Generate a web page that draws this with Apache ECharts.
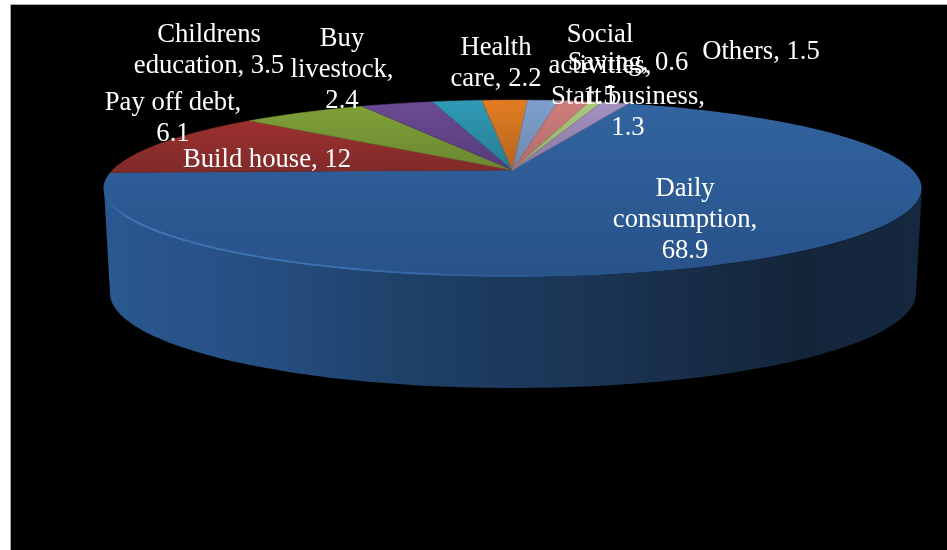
<!DOCTYPE html>
<html>
<head>
<meta charset="utf-8">
<title>Use of income</title>
<style>html,body{margin:0;padding:0;background:#fff}#chart{width:947px;height:550px}</style>
<script src="https://cdn.jsdelivr.net/npm/echarts@6/dist/echarts.min.js"></script>
</head>
<body>
<div id="chart"></div>
<script>
// Categories run clockwise; a line break inside a name is where its label wraps.
const categories = ['Daily\nconsumption', 'Build house', 'Pay off debt', 'Childrens\neducation', 'Buy\nlivestock',
  'Health\ncare', 'Social\nactivities', 'Others', 'Saving', 'Start business'];
const values = [68.9, 12, 6.1, 3.5, 2.4, 2.2, 1.5, 1.5, 0.6, 1.3];
// Whether the value wraps on to its own line.
const valueOnNewLine = [true, false, true, false, true, false, true, false, false, true];

// Slice shades: [far edge, near edge].
const sliceShades = [['#32649f', '#28528a'], ['#a83232', '#7f2b29'], ['#80a239', '#6b8730'], ['#6d4b96', '#543a75'],
  ['#2f9bb8', '#287a8f'], ['#e27c22', '#b3641f'], ['#7f9fcd', '#6b87ae'], ['#cf7f7d', '#ad6a68'],
  ['#afca7f', '#90a868'], ['#a492c2', '#8877a0']];
// Label block centres, in the same order as the categories.
const labelCentres = [[685, 219.5], [267, 159.5], [173, 118.5], [209, 50], [342, 70],
  [496, 63], [600, 66], [761, 51.5], [628, 62.5], [628, 112]];

// Perspective disc: hub position, horizontal and depth scale, foreshortening.
const hub = { x: 512.5, y: 170 }, spanX = 400, spanY = 84.6, tilt = -0.209;
const firstAngle = 20.26;
// Ellipses that outline the side wall.
const rimTop = { x: 513, y: 188.5, a: 409, b: 88.5 };
const rimBottom = { x: 513, y: 293, a: 403, b: 95 };

const total = values.reduce((s, v) => s + v, 0);
const rad = d => d * Math.PI / 180;

function discPoint(deg) {
  const u = Math.sin(rad(deg)), v = -Math.cos(rad(deg));
  const d = 1 + tilt * v;
  return [hub.x + spanX * u / d, hub.y + spanY * v / d];
}
function frontArc(e, reverse) {
  const pts = [];
  for (let t = 0; t <= 180; t += 1.5) {
    pts.push([e.x + e.a * Math.cos(rad(t)), e.y + e.b * Math.sin(rad(t))]);
  }
  return reverse ? pts.reverse() : pts;
}
const grad = (x0, y0, x1, y1, stops) => new echarts.graphic.LinearGradient(x0, y0, x1, y1,
  stops.map(([offset, color]) => ({ offset, color })), true);

function renderSlice(params, api) {
  const i = params.dataIndex;
  const before = values.slice(0, i).reduce((s, v) => s + v, 0);
  const from = firstAngle + before / total * 360;
  const to = from + api.value(1) / total * 360;
  const pts = [[hub.x, hub.y]];
  const steps = Math.max(2, Math.ceil(to - from));
  for (let k = 0; k <= steps; k++) pts.push(discPoint(from + (to - from) * k / steps));
  const [far, near] = sliceShades[i];
  const face = {
    type: 'polygon',
    shape: { points: pts },
    style: {
      fill: grad(0, 100, 0, i === 0 ? 277 : 172, [[0, far], [1, near]]),
      stroke: i === 0 ? null : near, lineWidth: i === 0 ? 0 : 0.5
    }
  };
  if (i !== 0) return face;
  // The largest slice faces the viewer, so it carries the side wall and bevel.
  const wall = {
    type: 'polygon',
    shape: { points: frontArc(rimTop).concat(frontArc(rimBottom, true)) },
    style: {
      fill: grad(104, 0, 922, 0, [[0, '#2a5890'], [0.12, '#285288'], [0.24, '#244b7c'], [0.36, '#1f4169'],
        [0.48, '#1c3a5e'], [0.62, '#1a3351'], [0.73, '#172c46'], [0.85, '#14253a'], [1, '#162840']])
    }
  };
  const bevel = {
    type: 'polyline',
    shape: { points: frontArc({ x: rimTop.x, y: rimTop.y - 1, a: rimTop.a, b: rimTop.b }) },
    style: {
      fill: null, lineWidth: 2,
      stroke: grad(104, 0, 922, 0, [[0, 'rgba(64,121,187,0)'], [0.03, 'rgba(64,121,187,0.9)'], [0.3, 'rgba(62,116,180,0.9)'],
        [0.5, 'rgba(50,100,160,0.5)'], [0.65, 'rgba(40,82,138,0)'], [1, 'rgba(40,82,138,0)']])
    }
  };
  return { type: 'group', children: [wall, face, bevel] };
}

function renderLabel(params, api) {
  const i = params.dataIndex;
  const text = categories[i] + (valueOnNewLine[i] ? ',\n' : ', ') + api.value(1);
  return {
    type: 'text',
    style: {
      text, x: labelCentres[i][0], y: labelCentres[i][1],
      fill: '#fff', font: '26.67px "Liberation Serif"', align: 'center', verticalAlign: 'middle', lineHeight: 31
    }
  };
}

const chart = echarts.init(document.getElementById('chart'), null, { renderer: 'canvas' });
const rows = categories.map((c, i) => [i, values[i]]);
chart.setOption({
  animation: false,
  backgroundColor: '#fff',
  graphic: [{
    type: 'rect', z: -1,
    shape: { x: 10.5, y: 4.5, width: 960, height: 570 },
    style: { fill: '#000', stroke: '#a8a8a8', lineWidth: 1 }
  }],
  series: [
    { type: 'custom', coordinateSystem: 'none', data: rows, renderItem: renderSlice, silent: true, z: 2 },
    { type: 'custom', coordinateSystem: 'none', data: rows, renderItem: renderLabel, silent: true, z: 3 }
  ]
});
</script>
</body>
</html>
